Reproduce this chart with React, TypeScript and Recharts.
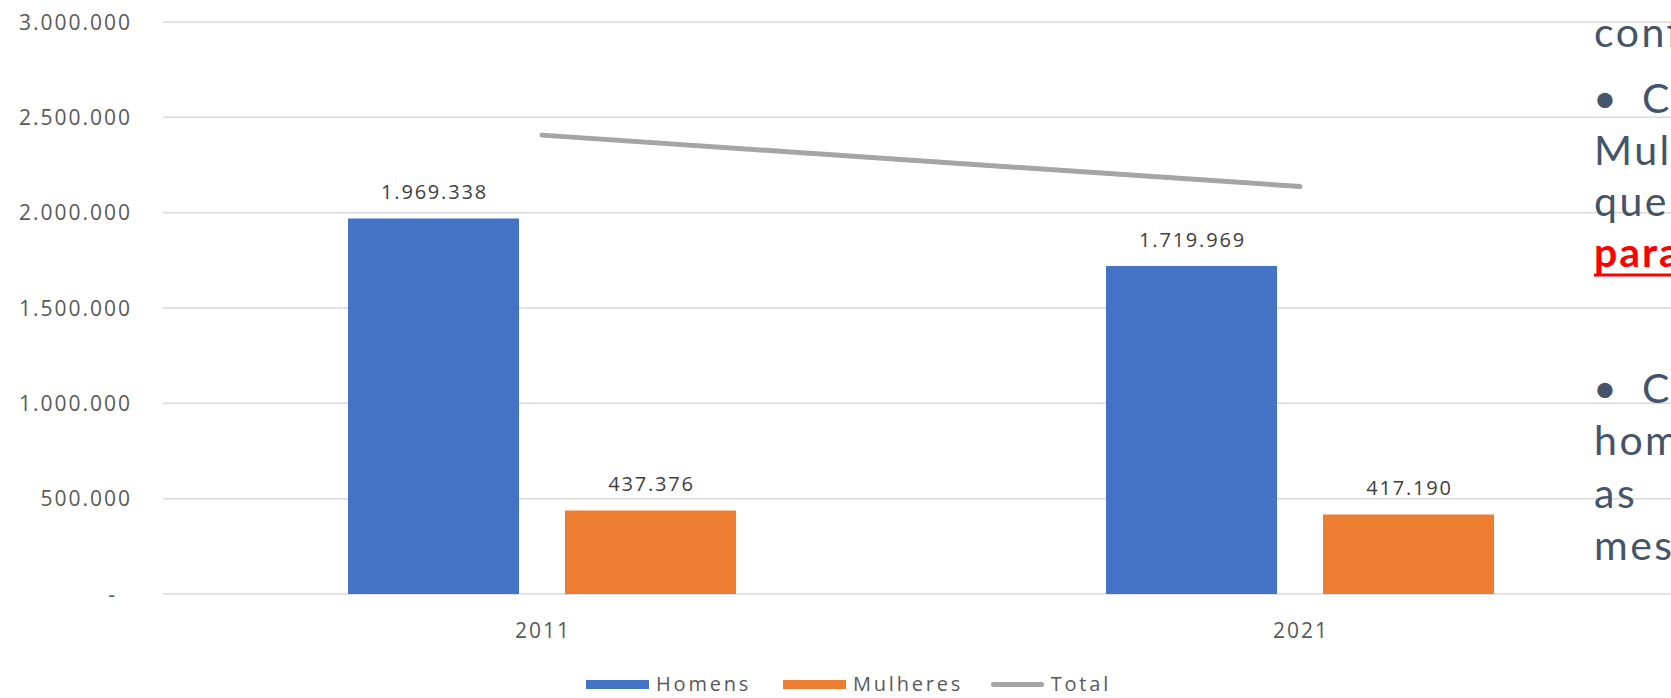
import React from "react";
import {
  ComposedChart,
  Bar,
  Line,
  XAxis,
  YAxis,
  CartesianGrid,
  LabelList,
  Legend,
} from "recharts";

const years = ["2011", "2021"];
const homens = [1969338, 1719969];
const mulheres = [437376, 417190];
const total = [2406714, 2137159];
const yTicks = [0, 500000, 1000000, 1500000, 2000000, 2500000, 3000000];

const data = years.map((year, i) => ({
  year,
  homens: homens[i],
  mulheres: mulheres[i],
  total: total[i],
}));

const FONT = "'Open Sans', 'Noto Sans', sans-serif";
const SIDE_FONT = "Lato, 'Open Sans', sans-serif";

// pt-BR style thousands separator, excel accounting "-" for zero
function fmt(v: number): string {
  if (v === 0) return "-";
  return String(Math.round(v)).replace(/\B(?=(\d{3})+(?!\d))/g, ".");
}

function YTick({ x, y, payload }: any) {
  const v = payload.value;
  return (
    <text
      x={(v === 0 ? x - 48 : x - 33) + 2}
      y={y + 7.5}
      textAnchor="end"
      fill="#595959"
      fontSize={21}
      fontFamily={FONT}
      letterSpacing={2}
    >
      {fmt(v)}
    </text>
  );
}

function XTick({ x, y, payload }: any) {
  return (
    <text
      x={x + 1}
      y={y + 44}
      textAnchor="middle"
      fill="#595959"
      fontSize={21}
      fontFamily={FONT}
      letterSpacing={2}
    >
      {payload.value}
    </text>
  );
}

function BarLabel(props: any) {
  const vb = props.viewBox || props;
  return (
    <text
      x={vb.x + vb.width / 2 + 1}
      y={vb.y - 19.5}
      textAnchor="middle"
      fill="#404040"
      fontSize={20}
      fontFamily={FONT}
      letterSpacing={1.8}
    >
      {fmt(Number(props.value))}
    </text>
  );
}

const itemWidths = [197, 208, 120];

function LegendContent({ payload }: any) {
  return (
    <div style={{ display: "flex", alignItems: "center", fontFamily: FONT, height: 16 }}>
      {(payload || []).map((p: any, i: number) => (
        <div
          key={p.value}
          style={{ display: "flex", alignItems: "center", width: itemWidths[i], height: 16 }}
        >
          <span
            style={{
              display: "inline-block",
              width: 63,
              height: p.type === "line" ? 5 : 9,
              borderRadius: p.type === "line" ? 3 : 0,
              background: p.color,
              marginRight: 7,
            }}
          />
          <span style={{ fontSize: 20, lineHeight: "16px", color: "#595959", letterSpacing: 2.8 }}>
            {p.value}
          </span>
        </div>
      ))}
    </div>
  );
}

// slide text overlapping the right edge of the chart
const sideLines = [
  { text: "conf", y: 47 },
  { text: "\u2022", y: 113, x: 1593 },
  { text: "Co", y: 113, x: 1642 },
  { text: "Mul", y: 165 },
  { text: "que", y: 216 },
  { text: "\u2022", y: 403, x: 1593 },
  { text: "Co", y: 403, x: 1642 },
  { text: "hom", y: 455 },
  { text: "as", y: 508 },
  { text: "mes", y: 560 },
];

export default function App() {
  return (
    <div
      style={{
        position: "fixed",
        left: 0,
        top: 0,
        width: 1671,
        height: 698,
        overflow: "hidden",
        background: "#fff",
      }}
    >
      <ComposedChart
        width={1700}
        height={698}
        data={data}
        margin={{ top: 22, right: 21, left: 0, bottom: 44 }}
        barCategoryGap={185}
        barGap={46}
      >
        <CartesianGrid vertical={false} stroke="#D9D9D9" strokeWidth={1.5} />
        <XAxis
          dataKey="year"
          height={60}
          axisLine={false}
          tickLine={false}
          tickSize={0}
          tickMargin={0}
          tick={<XTick />}
        />
        <YAxis
          width={163}
          domain={[0, 3000000]}
          ticks={yTicks}
          axisLine={false}
          tickLine={false}
          tickSize={0}
          tickMargin={0}
          tick={<YTick />}
        />
        <Legend
          layout="horizontal"
          verticalAlign="middle"
          align="center"
          wrapperStyle={{ left: 586, top: 676, width: 560, height: 16 }}
          content={<LegendContent />}
        />
        <Bar dataKey="homens" name="Homens" fill="#4472C4" legendType="rect" isAnimationActive={false}>
          <LabelList dataKey="homens" content={<BarLabel />} />
        </Bar>
        <Bar dataKey="mulheres" name="Mulheres" fill="#ED7D31" legendType="rect" isAnimationActive={false}>
          <LabelList dataKey="mulheres" content={<BarLabel />} />
        </Bar>
        <Line
          type="linear"
          dataKey="total"
          name="Total"
          stroke="#A5A5A5"
          strokeWidth={5}
          strokeLinecap="round"
          dot={false}
          activeDot={false}
          legendType="line"
          isAnimationActive={false}
        />
      </ComposedChart>
      <svg
        width={1671}
        height={698}
        style={{ position: "absolute", left: 0, top: 0, pointerEvents: "none" }}
      >
        {sideLines.map((l, i) => (
          <text
            key={i}
            x={l.x ?? 1594}
            y={l.y}
            fill="#44546A"
            fontSize={41}
            fontFamily={SIDE_FONT}
            letterSpacing={2.5}
          >
            {l.text}
          </text>
        ))}
        <text x={1594} y={267} fill="#FF0000" fontSize={41} fontWeight="bold" fontFamily={SIDE_FONT} letterSpacing={2}>
          para
        </text>
        <line x1={1594} x2={1671} y1={275} y2={275} stroke="#FF0000" strokeWidth={3} />
      </svg>
    </div>
  );
}
